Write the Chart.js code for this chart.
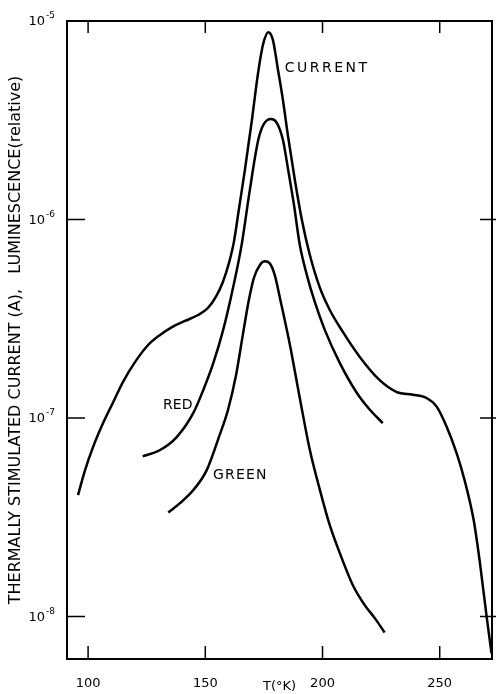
<!DOCTYPE html>
<html>
<head>
<meta charset="utf-8">
<script src="https://cdn.jsdelivr.net/npm/chart.js@4.4.0/dist/chart.umd.min.js"></script>
<style>
  html, body { margin: 0; padding: 0; background: #fff; }
  #wrap { width: 497px; height: 694px; position: relative; }
</style>
</head>
<body>
<div id="wrap"><canvas id="myChart"></canvas></div>
<script>
// DATA ----------------------------------------------------------------

const currentT = [95.7, 98.7, 102.1, 106.4, 110.7, 114.9, 120.0, 125.6, 130.7, 135.8, 141.3, 146.9, 151.1, 154.5, 157.5, 160.1, 162.2, 164.3, 166.9, 169.9, 172.4, 174.6, 176.9, 178.8, 181.0, 183.1, 185.2, 188.2, 191.2, 194.6, 198.9, 203.1, 208.2, 215.9, 224.4, 231.7, 238.5, 244.4, 248.7, 253.0, 257.2, 260.6, 264.5, 267.0, 270.0, 272.1];
const currentA = [4.08e-8, 5.46e-8, 7.13e-8, 9.42e-8, 1.20e-7, 1.52e-7, 1.91e-7, 2.33e-7, 2.62e-7, 2.87e-7, 3.08e-7, 3.30e-7, 3.58e-7, 4.07e-7, 4.84e-7, 6.04e-7, 7.71e-7, 1.12e-6, 1.78e-6, 3.18e-6, 5.36e-6, 7.59e-6, 8.78e-6, 8.05e-6, 5.68e-6, 4.01e-6, 2.67e-6, 1.58e-6, 9.95e-7, 6.62e-7, 4.52e-7, 3.50e-7, 2.77e-7, 2.03e-7, 1.55e-7, 1.35e-7, 1.31e-7, 1.26e-7, 1.14e-7, 9.0e-8, 6.65e-8, 4.86e-8, 3.05e-8, 1.92e-8, 1.0e-8, 6.52e-9];

const redT = [123.3, 130.7, 137.8, 144.9, 149.1, 153.4, 157.6, 161.9, 165.5, 169.0, 172.6, 175.0, 178.0, 180.5, 183.1, 185.2, 187.8, 190.3, 193.3, 196.7, 201.0, 207.4, 214.6, 220.2, 225.7];
const redL = [6.40e-8, 6.89e-8, 8.01e-8, 1.06e-7, 1.38e-7, 1.89e-7, 2.77e-7, 4.57e-7, 7.45e-7, 1.41e-6, 2.52e-6, 3.03e-6, 3.21e-6, 3.07e-6, 2.52e-6, 1.82e-6, 1.19e-6, 7.45e-7, 5.26e-7, 3.84e-7, 2.77e-7, 1.89e-7, 1.34e-7, 1.10e-7, 9.42e-8];

const greenT = [134.2, 139.2, 144.9, 150.6, 155.8, 159.7, 163.1, 166.0, 168.6, 170.7, 173.3, 175.4, 177.5, 179.6, 182.2, 186.1, 190.3, 194.6, 198.9, 203.1, 207.4, 212.9, 218.0, 222.3, 226.5];
const greenL = [3.34e-8, 3.72e-8, 4.33e-8, 5.46e-8, 8.01e-8, 1.10e-7, 1.64e-7, 2.62e-7, 3.94e-7, 5.07e-7, 5.90e-7, 6.15e-7, 6.01e-7, 5.26e-7, 3.84e-7, 2.33e-7, 1.26e-7, 6.89e-8, 4.33e-8, 2.88e-8, 2.08e-8, 1.44e-8, 1.14e-8, 9.8e-9, 8.3e-9];

const xTicks = [100, 150, 200, 250];
const yTicks = [1e-8, 1e-7, 1e-6, 1e-5];
const yTickBase = '10';
const yTickExp = ['-8', '-7', '-6', '-5'];

const curveNames = ['CURRENT', 'RED', 'GREEN'];

// CONFIG --------------------------------------------------------------

// where the curve names sit (data coords) and their letter spacing
const nameAnchors = [
    { t: 183.9, v: 5.74e-6, spacing: '2.5px' },
    { t: 132.0, v: 1.16e-7, spacing: '0px' },
    { t: 153.3, v: 5.15e-8, spacing: '1.2px' }
];

function toPoints(xs, ys) {
    return xs.map((t, i) => ({ x: t, y: ys[i] }));
}

// cadre + graduations vers l'intérieur + étiquettes 10^n + noms des courbes
const frameTicks = {
    id: 'frameTicks',
    afterDatasetsDraw(chart) {
        const { ctx, chartArea: a, scales: { x, y } } = chart;
        ctx.save();
        ctx.strokeStyle = '#000';
        ctx.lineWidth = 2;
        ctx.strokeRect(a.left, a.top, a.right - a.left, a.bottom - a.top);

        ctx.lineWidth = 1.5;
        ctx.beginPath();
        xTicks.forEach(v => {
            const px = x.getPixelForValue(v);
            ctx.moveTo(px, a.bottom); ctx.lineTo(px, a.bottom - 13);
            ctx.moveTo(px, a.top); ctx.lineTo(px, a.top + 12);
        });
        yTicks.forEach(v => {
            const py = y.getPixelForValue(v);
            if (py <= a.top + 1) return;
            ctx.moveTo(a.left, py); ctx.lineTo(a.left + 18, py);
            ctx.moveTo(a.right - 12, py); ctx.lineTo(a.right + 4, py);
        });
        ctx.stroke();

        ctx.fillStyle = '#000';
        ctx.textBaseline = 'middle';
        yTicks.forEach((v, i) => {
            const py = y.getPixelForValue(v);
            ctx.font = '13px "DejaVu Sans"';
            ctx.textAlign = 'right';
            ctx.fillText(yTickBase, a.left - 22, py + 1);
            ctx.font = '9px "DejaVu Sans"';
            ctx.textAlign = 'left';
            ctx.fillText(yTickExp[i], a.left - 21, py - 5);
        });

        ctx.font = '14px "DejaVu Sans"';
        ctx.textAlign = 'left';
        curveNames.forEach((name, i) => {
            const n = nameAnchors[i];
            ctx.letterSpacing = n.spacing;
            ctx.fillText(name, x.getPixelForValue(n.t), y.getPixelForValue(n.v));
        });
        ctx.letterSpacing = '0px';
        ctx.restore();
    }
};

const ctx = document.getElementById('myChart');
Chart.defaults.font.family = '"DejaVu Sans"';
Chart.defaults.color = '#000';

const lineStyle = {
    borderColor: '#000',
    borderWidth: 2.5,
    pointRadius: 0,
    fill: false,
    cubicInterpolationMode: 'monotone'
};

new Chart(ctx, {
    type: 'line',
    data: {
        datasets: [
            { label: 'CURRENT', data: toPoints(currentT, currentA), ...lineStyle },
            { label: 'RED', data: toPoints(redT, redL), ...lineStyle },
            { label: 'GREEN', data: toPoints(greenT, greenL), ...lineStyle }
        ]
    },
    options: {
        responsive: true,
        maintainAspectRatio: false,
        animation: false,
        layout: { padding: { top: 21, right: 5, left: 0, bottom: 0 } },
        plugins: { legend: { display: false }, tooltip: { enabled: false } },
        scales: {
            x: {
                type: 'linear',
                min: 91,
                max: 272.3,
                grid: { display: false },
                border: { display: false },
                afterBuildTicks: s => { s.ticks = xTicks.map(v => ({ value: v })); },
                afterFit: s => { s.height = 35; },
                ticks: { padding: 9, font: { size: 13 }, maxRotation: 0 },
                title: {
                    display: true,
                    text: 'T(°K)',
                    font: { size: 13 },
                    padding: { top: 0, bottom: 0 }
                }
            },
            y: {
                type: 'logarithmic',
                min: 6.1e-9,
                max: 1e-5,
                grid: { display: false },
                border: { display: false },
                afterBuildTicks: s => { s.ticks = yTicks.map(v => ({ value: v })); },
                afterFit: s => { s.width = 67; },
                ticks: { display: false },
                title: {
                    display: true,
                    text: 'THERMALLY STIMULATED CURRENT (A),   LUMINESCENCE(relative)',
                    font: { size: 16 },
                    padding: { top: 6, bottom: 0 }
                }
            }
        }
    },
    plugins: [frameTicks]
});
</script>
</body>
</html>
